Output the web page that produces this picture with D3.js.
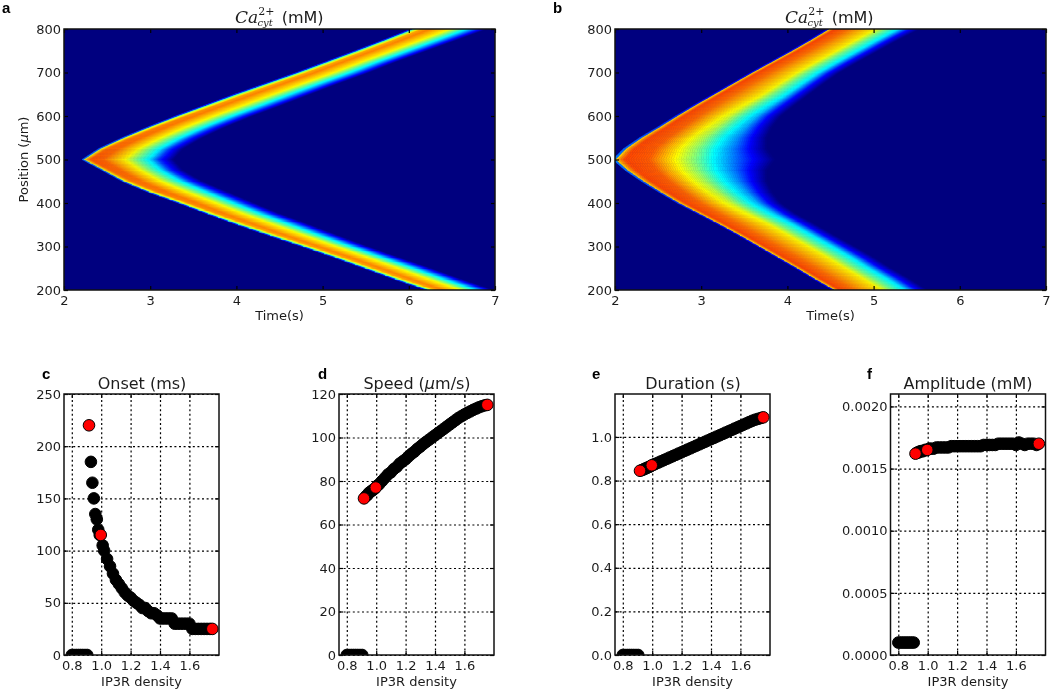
<!DOCTYPE html>
<html><head><meta charset="utf-8">
<script src="https://cdn.jsdelivr.net/npm/d3@7"></script>
<style>
html,body{margin:0;padding:0;background:#fff}
svg{display:block;filter:blur(.45px)}
text{font-family:"DejaVu Sans",sans-serif;fill:#1c1c1c}
</style></head><body>
<svg id="c" width="1050" height="690"></svg>
<script>
// ---------- heat map data (seconds at each position along the wave) ----------
const positions = [200,225,250,275,300,325,350,375,400,425,450,475,500,525,550,575,600,625,650,675,700,725,750,775,800];
const frontA = [6.22,5.85,5.5,5.15,4.78,4.4,4.03,3.68,3.35,3.0,2.7,2.47,2.24,2.43,2.7,3.0,3.32,3.66,4.0,4.36,4.72,5.06,5.4,5.73,6.05];
const tailA  = [6.97,6.6,6.25,5.88,5.52,5.18,4.85,4.5,4.2,3.9,3.6,3.38,3.27,3.38,3.6,3.87,4.18,4.52,4.85,5.18,5.53,5.85,6.2,6.55,6.9];
const frontB = [4.55,4.33,4.12,3.9,3.68,3.46,3.23,2.99,2.75,2.54,2.34,2.16,2.02,2.14,2.32,2.53,2.73,2.94,3.16,3.38,3.6,3.83,4.06,4.28,4.49];
const tailB  = [5.62,5.42,5.2,5.0,4.78,4.55,4.33,4.1,3.92,3.82,3.76,3.76,3.85,3.76,3.76,3.82,3.92,4.08,4.25,4.42,4.6,4.82,5.05,5.28,5.53];
// colour profile across the wave: fraction of the width -> colormap level, at the tip and along the arms
const tipFractionA = [-0.03,-0.015,0,0.06,0.2,0.44,0.58,0.73,0.83,1];
const tipLevelA    = [0,0.4,0.7,0.81,0.79,0.65,0.5,0.35,0.18,0];
const armFractionA = [-0.03,-0.015,0,0.1,0.22,0.48,0.61,0.74,0.9,1];
const armLevelA    = [0,0.2,0.45,0.72,0.76,0.65,0.5,0.35,0.14,0];
const tipFractionB = [-0.025,-0.012,0,0.05,0.2,0.35,0.5,0.62,0.85,1];
const tipLevelB    = [0,0.4,0.72,0.82,0.8,0.66,0.5,0.36,0.14,0];
const armFractionB = [-0.02,-0.01,0,0.05,0.2,0.5,0.62,0.77,0.88,1];
const armLevelB    = [0,0.4,0.7,0.82,0.78,0.65,0.5,0.35,0.14,0];
const jetLevels = [0,0.125,0.375,0.64,0.89,1];
const jetColors = ["#00007f","#0000ff","#00ffff","#ffff00","#ff0000","#7f0000"];

// ---------- scatter data ----------
const silentDensity = [0.80,0.815,0.83,0.845,0.86,0.875,0.89,0.905];
const silentOnset = [0,0,0,0,0,0,0,0];
const silentSpeed = [0,0,0,0,0,0,0,0];
const silentDuration = [0,0,0,0,0,0,0,0];
const silentAmplitude = [0.0001,0.0001,0.0001,0.0001,0.0001,0.0001,0.0001,0.0001];
const density = [0.93,0.94,0.95,0.96,0.97,0.98,0.99,1.01,1.02,1.04,1.06,1.08,1.1,1.12,1.14,1.16,1.18,1.2,1.22,1.24,1.26,1.28,1.3,1.32,1.34,1.36,1.38,1.4,1.42,1.44,1.46,1.48,1.5,1.52,1.54,1.56,1.58,1.6,1.62,1.64,1.66,1.68,1.7,1.72,1.74];
const onset = [185,165,150,135,130,120,115,105,100,92,85,78,72,68,64,60,57,55,52,50,48,45,45,42,40,40,38,35,35,35,35,35,30,30,30,30,30,30,25,25,25,25,25,25,25];
const speed = [73,73.5,74.5,75,75.5,76,76.5,78,78.5,80,81.5,83,84,85.5,86.5,88,89,90,91.3,92.5,93.5,94.8,95.8,97,98,99,100,101,102,103,104,105,106,107,108,109,109.8,110.6,111.3,112,112.7,113.3,113.9,114.4,114.8];
const duration = [0.848,0.851,0.854,0.857,0.86,0.863,0.866,0.873,0.876,0.882,0.888,0.894,0.9,0.906,0.912,0.918,0.924,0.93,0.936,0.942,0.948,0.954,0.96,0.966,0.972,0.978,0.984,0.99,0.996,1.002,1.008,1.014,1.02,1.026,1.032,1.038,1.044,1.05,1.056,1.062,1.068,1.074,1.079,1.083,1.087];
const amplitude = [0.00163,0.00163,0.00164,0.00164,0.00164,0.00165,0.00165,0.00166,0.00166,0.00166,0.00167,0.00167,0.00167,0.00167,0.00167,0.00168,0.00168,0.00168,0.00168,0.00168,0.00168,0.00168,0.00168,0.00168,0.00168,0.00168,0.00169,0.00169,0.00169,0.00169,0.00169,0.0017,0.0017,0.0017,0.0017,0.0017,0.0017,0.00169,0.00171,0.0017,0.00169,0.0017,0.0017,0.0017,0.00169];
const redDensity = [0.917,0.997,1.756];
const redOnset = [220,115,25];
const redSpeed = [72,77,115];
const redDuration = [0.845,0.87,1.09];
const redAmplitude = [0.00162,0.00165,0.0017];

const heatTimeTicks = [2,3,4,5,6,7];
const heatPosTicks = [200,300,400,500,600,700,800];
const densityTicks = [0.8,1.0,1.2,1.4,1.6];
const onsetTicks = [0,50,100,150,200,250];
const speedTicks = [0,20,40,60,80,100,120];
const durationTicks = [0,0.2,0.4,0.6,0.8,1.0];
const amplitudeTicks = [0,0.0005,0.001,0.0015,0.002];

// ---------- drawing ----------
const svg = d3.select("#c");
const defs = svg.append("defs");
const jet = d3.scaleLinear().domain(jetLevels).range(jetColors).interpolate(d3.interpolateRgb).clamp(true);
let clipId = 0;
const labelSize = "13px";

function frame(g, x, y, xTicks, yTicks, xFmt, yFmt, grid){
  const [x0,x1] = x.range(), [y0,y1] = y.range();
  const w = x1-x0, h = y0-y1;
  if(grid){
    const dash = a=>{a.select(".domain").remove();a.selectAll("line").attr("stroke","#000").attr("stroke-width",1.2).attr("stroke-dasharray","2,2.6");};
    g.append("g").attr("transform",`translate(0,${y0})`)
      .call(d3.axisBottom(x).tickValues(xTicks).tickSize(-h).tickFormat("")).call(dash);
    g.append("g").attr("transform",`translate(${x0},0)`)
      .call(d3.axisLeft(y).tickValues(yTicks).tickSize(-w).tickFormat("")).call(dash);
  }
  return ()=>{
    const style = a=>{a.select(".domain").remove();a.selectAll("line").attr("stroke","#000").attr("stroke-width",1.2);a.selectAll("text").style("font-size",labelSize);};
    g.append("g").attr("transform",`translate(0,${y0})`)
      .call(d3.axisBottom(x).tickValues(xTicks).tickSizeInner(-4).tickSizeOuter(0).tickPadding(5).tickFormat(xFmt)).call(style)
      .selectAll("text").attr("dy","0.75em");
    g.append("g").attr("transform",`translate(0,${y1})`)
      .call(d3.axisTop(x).tickValues(xTicks).tickSizeInner(-4).tickSizeOuter(0).tickFormat("")).call(style);
    g.append("g").attr("transform",`translate(${x0},0)`)
      .call(d3.axisLeft(y).tickValues(yTicks).tickSizeInner(-4).tickSizeOuter(0).tickPadding(3).tickFormat(yFmt)).call(style);
    g.append("g").attr("transform",`translate(${x1},0)`)
      .call(d3.axisRight(y).tickValues(yTicks).tickSizeInner(-4).tickSizeOuter(0).tickFormat("")).call(style);
    g.append("rect").attr("x",x0).attr("y",y1).attr("width",w).attr("height",h)
      .attr("fill","none").attr("stroke","#111").attr("stroke-width",1.5);
  };
}

function clip(x0,y1,w,h){
  const id = "clip"+(clipId++);
  defs.append("clipPath").attr("id",id).append("rect").attr("x",x0).attr("y",y1).attr("width",w).attr("height",h);
  return `url(#${id})`;
}

function heat(left,right,front,tail,tipF,tipL,armF,armL,titleX,letter,letterX){
  const x = d3.scaleLinear().domain([2,7]).range([left,right]);
  const y = d3.scaleLinear().domain([200,800]).range([290,29]);
  const g = svg.append("g");
  const finish = frame(g,x,y,heatTimeTicks,heatPosTicks,d3.format("d"),d3.format("d"),false);
  const plot = g.insert("g",":first-child").attr("clip-path",clip(left,29,right-left,261));
  plot.append("rect").attr("x",left).attr("y",29).attr("width",right-left).attr("height",261).attr("fill",jet(0));
  const frontAt = d3.scaleLinear().domain(positions).range(front);
  const tailAt = d3.scaleLinear().domain(positions).range(tail);
  const tipOf = d3.scaleLinear().domain(tipF).range(tipL);
  const armOf = d3.scaleLinear().domain(armF).range(armL);
  const levelAt = (p,s)=>{
    const w = Math.min(Math.abs(p-500)/150,1);
    return (1-w)*tipOf(s)+w*armOf(s);
  };
  const first = Math.min(tipF[0],armF[0]);
  const nS = 64, subdiv = 3;
  const rows = [];
  positions.slice(0,-1).forEach((p,i)=>{
    const q = positions[i+1];
    for(let k=0;k<subdiv;k++) rows.push([p+(q-p)*k/subdiv,p+(q-p)*(k+1)/subdiv]);
  });
  const sAt = i=>first+(1-first)*i/nS;
  const line = d3.line();
  const px = (p,s)=>x(frontAt(p)+s*(tailAt(p)-frontAt(p)));
  rows.forEach(([p,q])=>{
    d3.range(nS-1,-1,-1).forEach(i=>{
      const s0=sAt(i), s1=sAt(i+1);
      const c = jet(levelAt((p+q)/2,(s0+s1)/2));
      plot.append("path")
        .attr("d",line([[px(p,s0),y(p)],[px(p,s1),y(p)],[px(q,s1),y(q)],[px(q,s0),y(q)]])+"Z")
        .attr("fill",c).attr("stroke",c).attr("stroke-width",0.5);
    });
  });
  finish();
  g.append("text").attr("x",(left+right)/2).attr("y",320).attr("text-anchor","middle").style("font-size",labelSize).text("Time(s)");
  const t = g.append("text").attr("x",titleX).attr("y",23).style("font-size","16px");
  t.append("tspan").style("font-family","'DejaVu Serif',serif").style("font-style","italic").style("font-size","17px").text("Ca");
  t.append("tspan").attr("dy",-8).style("font-size","11px").style("font-family","'DejaVu Serif',serif").text("2+");
  t.append("tspan").attr("dy",11).attr("dx",-17).style("font-size","10px").style("font-family","'DejaVu Serif',serif").style("font-style","italic").text("cyt");
  t.append("tspan").attr("dy",-3).attr("dx",9).text("(mM)");
  g.append("text").attr("x",letterX).attr("y",13).style("font-weight","bold").style("font-size","15px").style("font-family","'Liberation Sans',sans-serif").style("fill","#000").text(letter);
  return g;
}

const ga = heat(64,495,frontA,tailA,tipFractionA,tipLevelA,armFractionA,armLevelA,235,"a",2);
ga.append("text").attr("transform","translate(28,159.5) rotate(-90)").attr("text-anchor","middle").style("font-size",labelSize).html("Position (<tspan font-style='italic'>μ</tspan>m)");
heat(615,1046,frontB,tailB,tipFractionB,tipLevelB,armFractionB,armLevelB,785,"b",553);

function scatter(left,yMax,yTicks,yFmt,silent,vals,red,titleHtml,titleX,letter,letterX){
  const right = left+155;
  const tick08 = left+7.8;
  const x = d3.scaleLinear().domain([0.8-(tick08-left)/147,0.8+(right-tick08)/147]).range([left,right]);
  const y = d3.scaleLinear().domain([0,yMax]).range([655,394]);
  const g = svg.append("g");
  const finish = frame(g,x,y,densityTicks,yTicks,d3.format(".1f"),yFmt,true);
  const plot = g.append("g").attr("clip-path",clip(left,394,155,261));
  const dot = (xs,ys,fill,r)=>plot.append("g").selectAll("circle").data(xs).join("circle")
    .attr("cx",d=>x(d)).attr("cy",(d,i)=>y(ys[i])).attr("r",r)
    .attr("fill",fill).attr("stroke","#000").attr("stroke-width",1);
  dot(silentDensity,silent,"#000",5.8);
  dot(density,vals,"#000",5.8);
  dot(redDensity,red,"#ff0000",5.8);
  finish();
  g.append("text").attr("x",left+77.5).attr("y",686).attr("text-anchor","middle").style("font-size",labelSize).text("IP3R density");
  g.append("text").attr("x",titleX).attr("y",389).attr("text-anchor","middle").style("font-size","16px").html(titleHtml);
  g.append("text").attr("x",letterX).attr("y",379).style("font-weight","bold").style("font-size","15px").style("font-family","'Liberation Sans',sans-serif").style("fill","#000").text(letter);
}

scatter(64,250,onsetTicks,d3.format("d"),silentOnset,onset,redOnset,"Onset (ms)",142,"c",42);
scatter(339,120,speedTicks,d3.format("d"),silentSpeed,speed,redSpeed,"Speed (<tspan font-style='italic'>μ</tspan>m/s)",417,"d",318);
scatter(615,1.197,durationTicks,d3.format(".1f"),silentDuration,duration,redDuration,"Duration (s)",693,"e",592);
scatter(890.5,0.0021,amplitudeTicks,d3.format(".4f"),silentAmplitude,amplitude,redAmplitude,"Amplitude (mM)",968,"f",867);
</script>
</body></html>
